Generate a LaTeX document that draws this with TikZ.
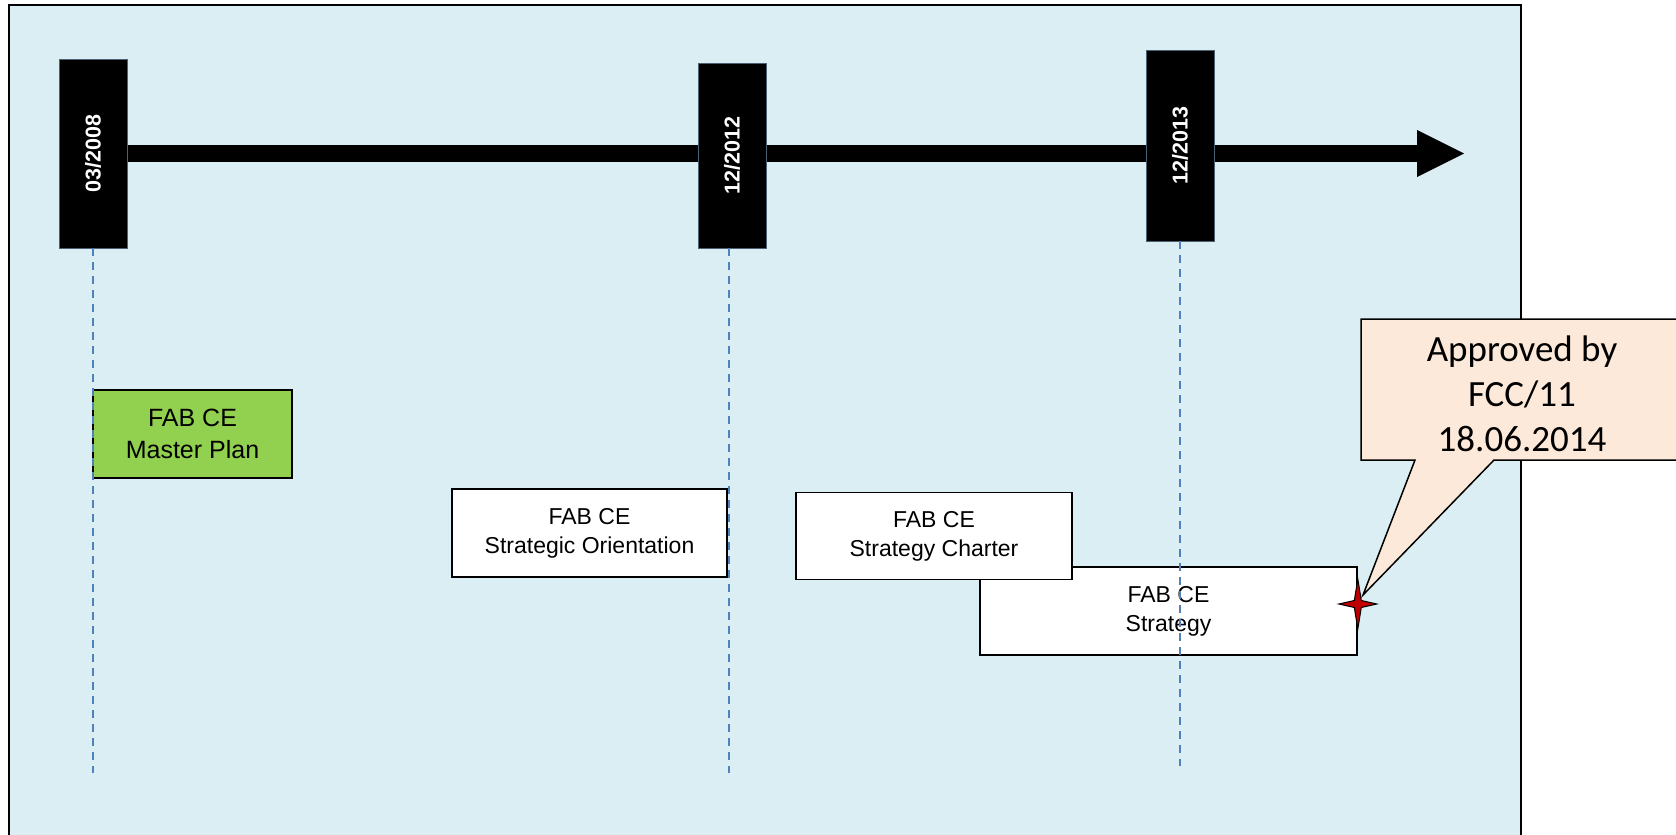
\documentclass[tikz,border=0pt]{standalone}
\usepackage{fontspec}
\usetikzlibrary{calc}
\setmainfont{Liberation Sans}
\newfontfamily\calib{Carlito}
\definecolor{bgblue}{HTML}{DAEEF3}
\definecolor{mgreen}{HTML}{92D050}
\definecolor{peach}{HTML}{FDE9D9}
\definecolor{dashblue}{HTML}{4F81BD}
\definecolor{starred}{HTML}{C00000}
\definecolor{edgeslate}{HTML}{4A6172}
\tikzset{
  datebox/.style={fill=black, draw=edgeslate, line width=0.8pt, inner sep=0pt, minimum width=68pt, text=white,
    font=\fontsize{21.5}{25}\selectfont\bfseries},
  docbox/.style={fill=white, draw=black, line width=1.6pt, inner sep=0pt, align=center,
    font=\fontsize{23}{29}\selectfont},
  guide/.style={draw=dashblue, line width=1.4pt, dash pattern=on 8pt off 6pt},
  starshape/.style={fill=starred, draw=black, line width=1pt},
}
\begin{document}
\begin{tikzpicture}[x=1pt, y=-1pt]
\useasboundingbox (0,0) rectangle (1676,835);
\clip (0,0) rectangle (1676,835);
% frame
\draw[fill=bgblue, line width=1.5pt] (9,5) rectangle (1521,850);
% timeline
\coordinate (tlstart) at (93,153.5);
\coordinate (tlhead) at (1417,153.5);
\fill ($(tlstart)+(0,-8.5)$) rectangle ($(tlhead)+(0,8.5)$);
\fill (1417,130) -- (1464,153.5) -- (1417,177) -- cycle;
% date boxes
\node[datebox, minimum height=189pt] (d1) at (93,153.5) {\rotatebox{90}{03/2008}};
\node[datebox, minimum height=185pt] (d2) at (732,155.5) {\rotatebox{90}{12/2012}};
\node[datebox, minimum height=191pt] (d3) at (1180,145.5) {\rotatebox{90}{12/2013}};
% document boxes
\node[docbox, minimum width=377pt, minimum height=88pt] (strat) at (1168.5,611) {FAB CE\\Strategy};
\node[docbox, minimum width=276pt, minimum height=87pt] (charter) at (934,536) {FAB CE\\Strategy Charter};
\node[docbox, minimum width=275pt, minimum height=88pt] (orient) at (589.5,533) {FAB CE\\Strategic Orientation};
\node[docbox, fill=mgreen, minimum width=199pt, minimum height=88pt,
  font=\fontsize{25}{31.5}\selectfont] (master) at (192.5,434) {FAB CE\\Master Plan};
% guide lines
\coordinate (g1) at (93,773);
\coordinate (g2) at (729,773);
\coordinate (g3) at (1180,766);
\draw[guide] (d1.south) -- (g1);
\draw[guide] (d2.south -| g2) -- (g2);
\draw[guide] (d3.south) -- (g3);
% star
\coordinate (starrow) at (0,604);
\coordinate (star) at (strat.east |- starrow);
\begin{scope}[shift={(star)}]
\draw[starshape] (19,0) -- (3.5,3.5) -- (0,25) -- (-3.5,3.5) -- (-19,0) -- (-3.5,-3.5) -- (0,-25) -- (3.5,-3.5) -- cycle;
\end{scope}
% callout
\coordinate (tip) at (1363,595);
\draw[fill=peach, line width=1.5pt, line join=miter] (1361,319) -- (1690,319) -- (1690,460) -- (1494,460) -- (tip) -- (1415,460) -- (1361,460) -- cycle;
\node[align=center, font=\calib\fontsize{37}{45}\selectfont, inner sep=0pt] (approved) at (1522,394) {Approved by\\FCC/11\\18.06.2014};
\end{tikzpicture}
\end{document}
